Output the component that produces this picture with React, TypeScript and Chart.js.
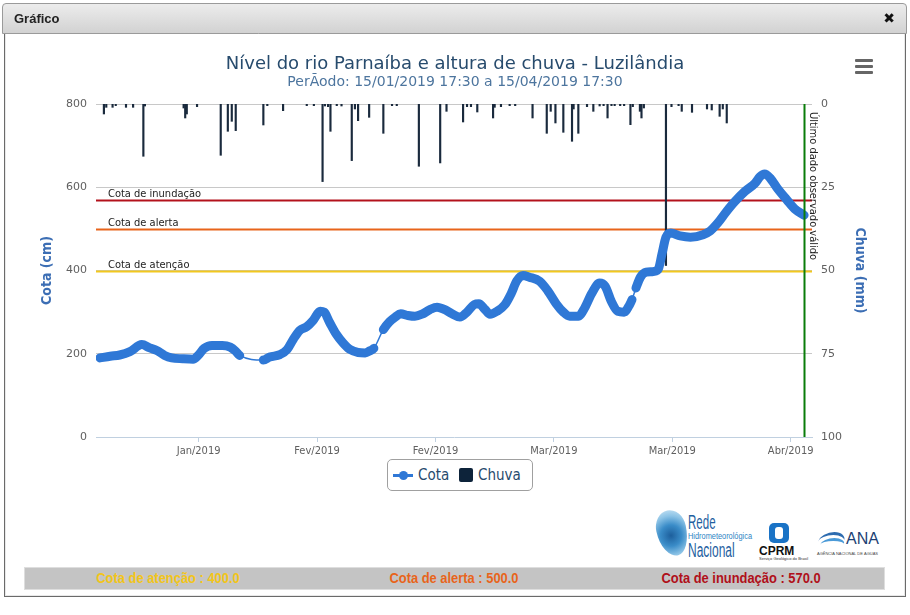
import React, { useEffect, useRef } from "react";
import { Chart, registerables } from "chart.js";

Chart.register(...registerables);

// ---- Data (days since 15/01/2019 17:30) ----
const cotaDays = [
  0.5, 1.8, 3.0, 4.3, 5.8, 6.8, 7.7, 8.7, 9.6, 11.0, 12.3, 12.9, 13.7, 14.7, 16.0, 17.0, 17.7, 18.2,
  21.2, 22.0, 23.3, 24.2, 25.0, 25.8, 26.7, 27.5, 28.4, 28.9, 29.6, 30.4, 31.3, 32.2, 33.2, 34.1, 34.7, 35.2,
  36.4, 37.2, 37.9, 38.6, 39.5, 40.4, 41.3, 42.3, 43.2, 44.2, 45.1, 46.1, 47.0, 47.9, 48.5, 49.3, 49.9, 50.8,
  51.8, 52.6, 53.3, 54.1, 54.9, 56.2, 57.2, 58.3, 59.2, 60.0, 61.1, 61.9, 62.8, 63.8, 64.5, 65.3, 66.1, 66.9,
  67.6, 67.9,
  68.4, 69.0, 69.7, 70.4, 71.2, 71.7, 72.2, 72.8, 74.0, 75.3, 76.9, 77.8, 78.8, 79.8, 80.9, 82.2, 83.5, 84.1,
  84.7, 85.4, 86.4, 87.5, 88.5, 89.7,
];
const cotaValues = [
  190, 194, 197, 205, 222, 214, 208, 196, 190, 188, 187, 195, 213, 220, 220, 216, 206, 196,
  185, 192, 198, 210, 235, 256, 265, 280, 302, 300, 275, 248, 226, 210, 203, 202, 207, 213,
  258, 277, 288, 296, 292, 290, 295, 306, 312, 306, 296, 288, 300, 318, 320, 306, 295, 302,
  318, 345, 375, 388, 384, 374, 352, 320, 300, 290, 290, 310, 345, 370, 362, 325, 302, 300,
  318, 330,
  358, 385, 396, 397, 402, 440, 480, 490, 483, 480, 486, 495, 515, 540, 565, 590, 610, 625,
  632, 622, 595, 570, 548, 533,
];
// indices after which the record has a gap (drawn as a thin connector)
const cotaGapAfter = [17, 35, 73];

const chuvaDays = [
  1.0, 1.3, 2.1, 2.5, 3.8, 4.7, 6.0, 6.2, 11.1, 11.3, 11.5, 12.8, 15.8, 16.7, 17.2, 17.7,
  21.2, 21.7, 23.7, 26.7, 27.6, 28.7, 29.0, 29.4, 29.7, 30.5, 31.1, 32.4, 32.8, 33.2, 34.6,
  36.4, 37.5, 38.1, 40.9, 43.6, 44.4, 46.5, 47.0, 47.5, 48.3, 50.3, 50.5, 51.3, 52.4, 53.1,
  55.3, 57.1, 57.6, 58.2, 59.2, 60.3, 60.5, 61.1, 62.2, 63.0, 63.8, 64.3, 64.8, 65.3, 65.7,
  66.4, 66.9, 67.7, 68.0, 68.9, 69.1, 69.4, 72.2, 72.9, 73.8, 74.2, 75.5, 77.4, 78.0, 79.0,
  79.4, 79.9,
];
const chuvaValues = [
  3.0, 1.0, 1.0, 0.5, 1.0, 1.0, 15.7, 0.6, 1.2, 4.2, 3.0, 0.8, 15.4, 8.2, 5.2, 8.0,
  6.3, 0.5, 2.0, 0.5, 0.5, 23.3, 0.6, 0.8, 8.2, 0.5, 0.6, 17.0, 1.5, 5.0, 4.0,
  8.8, 0.5, 0.5, 18.7, 17.7, 2.2, 5.4, 0.8, 0.8, 2.4, 4.2, 1.0, 0.8, 0.5, 0.5,
  4.2, 8.8, 2.2, 5.7, 8.5, 11.2, 1.5, 8.8, 0.8, 2.2, 0.6, 0.5, 4.2, 0.5, 0.5,
  0.5, 0.5, 6.2, 0.8, 2.2, 4.2, 1.2, 48.5, 0.8, 0.5, 2.2, 2.5, 1.5, 1.8, 3.7,
  1.5, 5.7,
];

const leftTicks = [0, 200, 400, 600, 800];
const rightTicks = [0, 25, 50, 75, 100];
const xTickDays = [13, 28, 43, 58, 73, 88];
const xTickLabels = ["Jan/2019", "Fev/2019", "Fev/2019", "Mar/2019", "Mar/2019", "Abr/2019"];

const thresholdValues = [400, 500, 570];
const thresholdLabels = ["Cota de atenção", "Cota de alerta", "Cota de inundação"];
const thresholdColors = ["#f2c81e", "#e8641b", "#b3121c"];
const lastValidDay = 89.7;

const COND = "'DejaVu Sans Condensed', 'DejaVu Sans', sans-serif";
const SANS = "'DejaVu Sans', sans-serif";

const overlayPlugin = {
  id: "overlayLines",
  beforeDatasetsDraw(chart: any) {
    const { ctx, chartArea, scales } = chart;
    const y = scales.y;
    ctx.save();
    thresholdValues.forEach((v, i) => {
      const py = Math.round(y.getPixelForValue(v)) + 0.5;
      ctx.strokeStyle = thresholdColors[i];
      ctx.lineWidth = 2;
      ctx.beginPath();
      ctx.moveTo(chartArea.left, py);
      ctx.lineTo(chartArea.right, py);
      ctx.stroke();
      ctx.fillStyle = "#222";
      ctx.font = `11px ${COND}`;
      ctx.textBaseline = "alphabetic";
      ctx.textAlign = "left";
      ctx.fillText(thresholdLabels[i], chartArea.left + 12, py - 4);
    });
    ctx.restore();
  },
  afterDatasetsDraw(chart: any) {
    const { ctx, chartArea, scales } = chart;
    const px = Math.round(scales.x.getPixelForValue(lastValidDay)) + 0.5;
    ctx.save();
    ctx.strokeStyle = "#0a7d0a";
    ctx.lineWidth = 2;
    ctx.beginPath();
    ctx.moveTo(px, chartArea.top);
    ctx.lineTo(px, chartArea.bottom);
    ctx.stroke();
    ctx.translate(px + 3, chartArea.top + 8);
    ctx.rotate(Math.PI / 2);
    ctx.fillStyle = "#222";
    ctx.font = `11px ${COND}`;
    ctx.textBaseline = "bottom";
    ctx.textAlign = "left";
    ctx.fillText("Último dado observado válido", 0, 0);
    ctx.restore();
  },
};

export default function App() {
  const ref = useRef<HTMLCanvasElement>(null);

  useEffect(() => {
    const canvas = ref.current!;
    const chart = new Chart(canvas, {
      type: "line",
      data: {
        datasets: [
          {
            type: "line",
            label: "Cota",
            data: cotaDays.map((d, i) => ({ x: d, y: cotaValues[i] })),
            yAxisID: "y",
            borderColor: "#2f78d6",
            backgroundColor: "#2f78d6",
            borderWidth: 9,
            pointRadius: 0,
            cubicInterpolationMode: "monotone",
            borderCapStyle: "round",
            borderJoinStyle: "round",
            segment: {
              borderWidth: (c: any) => (cotaGapAfter.includes(c.p0DataIndex) ? 1.5 : 9),
            },
            order: 1,
          } as any,
          {
            type: "bar",
            label: "Chuva",
            data: chuvaDays.map((d, i) => ({ x: d, y: chuvaValues[i] })),
            yAxisID: "y1",
            backgroundColor: "#1a2a3d",
            barThickness: 1.5,
            order: 2,
          } as any,
        ],
      },
      options: {
        responsive: false,
        animation: false,
        layout: { padding: { top: 0, left: 0, right: 0, bottom: 23 } },
        plugins: {
          legend: { display: false },
          tooltip: { enabled: false },
          title: {
            display: true,
            text: "Nível do rio Parnaíba e altura de chuva - Luzilândia",
            color: "#274b6d",
            font: { family: SANS, size: 18, weight: "normal", lineHeight: 1 },
            padding: { top: 55.5, bottom: 0 },
          },
          subtitle: {
            display: true,
            text: "PerÃodo: 15/01/2019 17:30 a 15/04/2019 17:30",
            color: "#4d759e",
            font: { family: SANS, size: 14, lineHeight: 1 },
            padding: { top: 2, bottom: 14.5 },
          },
        },
        scales: {
          x: {
            type: "linear",
            min: 0,
            max: 90.7,
            offset: false,
            afterBuildTicks: (s: any) => {
              s.ticks = xTickDays.map((v) => ({ value: v }));
            },
            ticks: {
              autoSkip: false,
              maxRotation: 0,
              callback: (_v: any, i: number) => xTickLabels[i],
              color: "#606060",
              font: { family: COND, size: 11 },
              padding: 3,
            },
            grid: {
              display: true,
              offset: false,
              drawOnChartArea: false,
              drawTicks: true,
              tickLength: 5,
              color: "#c0d0e0",
            },
            border: { display: true, color: "#c0d0e0", width: 1 },
            afterFit: (s: any) => {
              s.height = 40;
            },
          },
          y: {
            position: "left",
            min: 0,
            max: 800,
            afterBuildTicks: (s: any) => {
              s.ticks = leftTicks.map((v) => ({ value: v }));
            },
            grid: {
              color: (c: any) => (c.tick && c.tick.value === 0 ? "rgba(0,0,0,0)" : "#c8c8c8"),
              drawTicks: false,
            },
            border: { display: false },
            ticks: { padding: 9, color: "#606060", font: { family: SANS, size: 11 } },
            title: {
              display: true,
              text: "Cota (cm)",
              color: "#3c6eb4",
              font: { family: COND, size: 14, weight: "bold", lineHeight: 1 },
              padding: { top: 40, bottom: 0 },
            },
            afterFit: (s: any) => {
              s.width = 96;
            },
          },
          y1: {
            position: "right",
            min: 0,
            max: 100,
            reverse: true,
            afterBuildTicks: (s: any) => {
              s.ticks = rightTicks.map((v) => ({ value: v }));
            },
            grid: { display: false, drawTicks: false },
            border: { display: false },
            ticks: { padding: 9, color: "#606060", font: { family: SANS, size: 11 } },
            title: {
              display: true,
              text: "Chuva (mm)",
              color: "#3c6eb4",
              font: { family: COND, size: 14, weight: "bold", lineHeight: 1 },
              padding: { top: 43, bottom: 0 },
            },
            afterFit: (s: any) => {
              s.width = 98;
            },
          },
        },
      } as any,
      plugins: [overlayPlugin],
    });
    return () => chart.destroy();
  }, []);

  const narrowBold: React.CSSProperties = {
    position: "absolute",
    top: 569,
    height: 18,
    lineHeight: "18px",
    fontFamily: "'Liberation Sans', Arial, sans-serif",
    fontWeight: "bold",
    fontSize: 15,
    whiteSpace: "nowrap",
    transform: "translateX(-50%) scaleX(0.86)",
  };

  const logoText = (
    left: number,
    top: number,
    size: number,
    sx: number,
    color: string,
    text: string
  ) => (
    <span
      style={{
        position: "absolute",
        left,
        top,
        fontFamily: "'Liberation Sans', Arial, sans-serif",
        fontSize: size,
        lineHeight: `${size}px`,
        color,
        whiteSpace: "nowrap",
        transform: `scaleX(${sx})`,
        transformOrigin: "left top",
      }}
    >
      {text}
    </span>
  );

  return (
    <div
      style={{
        position: "absolute",
        left: 0,
        top: 0,
        width: 910,
        height: 615,
        background: "#fff",
        overflow: "hidden",
        fontFamily: "'Liberation Sans', Arial, sans-serif",
      }}
    >
      {/* dialog body */}
      <div
        style={{
          position: "absolute",
          left: 4,
          top: 33,
          width: 900,
          height: 563,
          border: "1px solid #6a6a6a",
          borderTop: "none",
          background: "#fff",
          boxShadow: "inset 0 0 0 1px #e8e8e8",
        }}
      />
      <canvas
        ref={ref}
        width={910}
        height={500}
        style={{ position: "absolute", left: 0, top: 0, width: 910, height: 500 }}
      />
      {/* header */}
      <div
        style={{
          position: "absolute",
          left: 2,
          top: 3,
          width: 903,
          height: 29,
          border: "1px solid #9a9a9a",
          borderRadius: "4px 4px 0 0",
          background: "linear-gradient(#ececec, #d2d2d2)",
        }}
      >
        <span
          style={{
            position: "absolute",
            left: 11,
            top: 7,
            fontWeight: "bold",
            fontSize: 13,
            color: "#222",
          }}
        >
          Gráfico
        </span>
        <span
          style={{
            position: "absolute",
            right: 11,
            top: 6,
            fontWeight: "bold",
            fontSize: 14,
            color: "#111",
            fontFamily: SANS,
          }}
        >
          ✖
        </span>
      </div>
      {/* export menu icon */}
      {[0, 6, 12].map((dy) => (
        <div
          key={dy}
          style={{
            position: "absolute",
            left: 855,
            top: 59 + dy,
            width: 18,
            height: 3,
            background: "#666",
            borderRadius: 1,
          }}
        />
      ))}
      {/* legend */}
      <div
        style={{
          position: "absolute",
          left: 387,
          top: 459,
          width: 144,
          height: 30,
          border: "1px solid #a0a0a0",
          borderRadius: 5,
          background: "#fff",
        }}
      />
      <div style={{ position: "absolute", left: 393, top: 474, width: 20, height: 3, background: "#2f78d6" }} />
      <div
        style={{
          position: "absolute",
          left: 399,
          top: 471,
          width: 9,
          height: 9,
          borderRadius: "50%",
          background: "#2f78d6",
        }}
      />
      <span
        style={{
          position: "absolute",
          left: 418,
          top: 466,
          fontFamily: COND,
          fontSize: 15,
          color: "#274b6d",
          lineHeight: "18px",
        }}
      >
        Cota
      </span>
      <div
        style={{
          position: "absolute",
          left: 459,
          top: 468,
          width: 14,
          height: 14,
          borderRadius: 2,
          background: "#0d233a",
        }}
      />
      <span
        style={{
          position: "absolute",
          left: 478,
          top: 466,
          fontFamily: COND,
          fontSize: 15,
          color: "#274b6d",
          lineHeight: "18px",
        }}
      >
        Chuva
      </span>
      {/* logos */}
      <div
        style={{
          position: "absolute",
          left: 657,
          top: 510,
          width: 30,
          height: 46,
          borderRadius: "50% 50% 45% 55% / 40% 40% 60% 60%",
          background:
            "radial-gradient(circle at 45% 55%, #1d5f9c 0%, #3a8cc8 35%, #8cc3e6 65%, #d8ecf8 100%)",
          transform: "rotate(-12deg)",
        }}
      />
      {logoText(688, 511, 21, 0.55, "#1f5f9f", "Rede")}
      {logoText(688, 532, 9, 0.82, "#2d84c4", "Hidrometeorológica")}
      {logoText(688, 540, 20, 0.6, "#1f5f9f", "Nacional")}
      <div
        style={{
          position: "absolute",
          left: 769,
          top: 523,
          width: 20,
          height: 20,
          borderRadius: 5,
          background: "#1a73c6",
        }}
      >
        <div
          style={{
            position: "absolute",
            left: 6,
            top: 4,
            width: 8,
            height: 12,
            borderRadius: 3,
            background: "#fff",
          }}
        />
      </div>
      <span
        style={{
          position: "absolute",
          left: 759,
          top: 545,
          fontWeight: "bold",
          fontSize: 12,
          color: "#111",
          lineHeight: "12px",
        }}
      >
        CPRM
      </span>
      <span
        style={{
          position: "absolute",
          left: 759,
          top: 557,
          fontSize: 4,
          color: "#333",
          lineHeight: "4px",
          whiteSpace: "nowrap",
        }}
      >
        Serviço Geológico do Brasil
      </span>
      <div
        style={{
          position: "absolute",
          left: 818,
          top: 532,
          width: 26,
          height: 16,
          borderTop: "3px solid #2d6cb0",
          borderRadius: "60% 60% 0 0",
          transform: "skewX(-20deg)",
        }}
      />
      <div
        style={{
          position: "absolute",
          left: 820,
          top: 538,
          width: 24,
          height: 10,
          borderTop: "3px solid #4a9ad8",
          borderRadius: "60% 60% 0 0",
          transform: "skewX(-20deg)",
        }}
      />
      <span
        style={{
          position: "absolute",
          left: 846,
          top: 531,
          fontSize: 16,
          color: "#1c3f73",
          lineHeight: "16px",
        }}
      >
        ANA
      </span>
      <span
        style={{
          position: "absolute",
          left: 817,
          top: 552,
          fontSize: 4,
          color: "#444",
          lineHeight: "4px",
          whiteSpace: "nowrap",
        }}
      >
        AGÊNCIA NACIONAL DE ÁGUAS
      </span>
      {/* bottom bar */}
      <div
        style={{
          position: "absolute",
          left: 24,
          top: 567,
          width: 859,
          height: 21,
          background: "#c4c4c4",
          border: "1px solid #dedede",
        }}
      />
      <span style={{ ...narrowBold, left: 168, color: "#f2c51a" }}>Cota de atenção : 400.0</span>
      <span style={{ ...narrowBold, left: 454, color: "#e8641b" }}>Cota de alerta : 500.0</span>
      <span style={{ ...narrowBold, left: 741, color: "#b0101a" }}>Cota de inundação : 570.0</span>
    </div>
  );
}
